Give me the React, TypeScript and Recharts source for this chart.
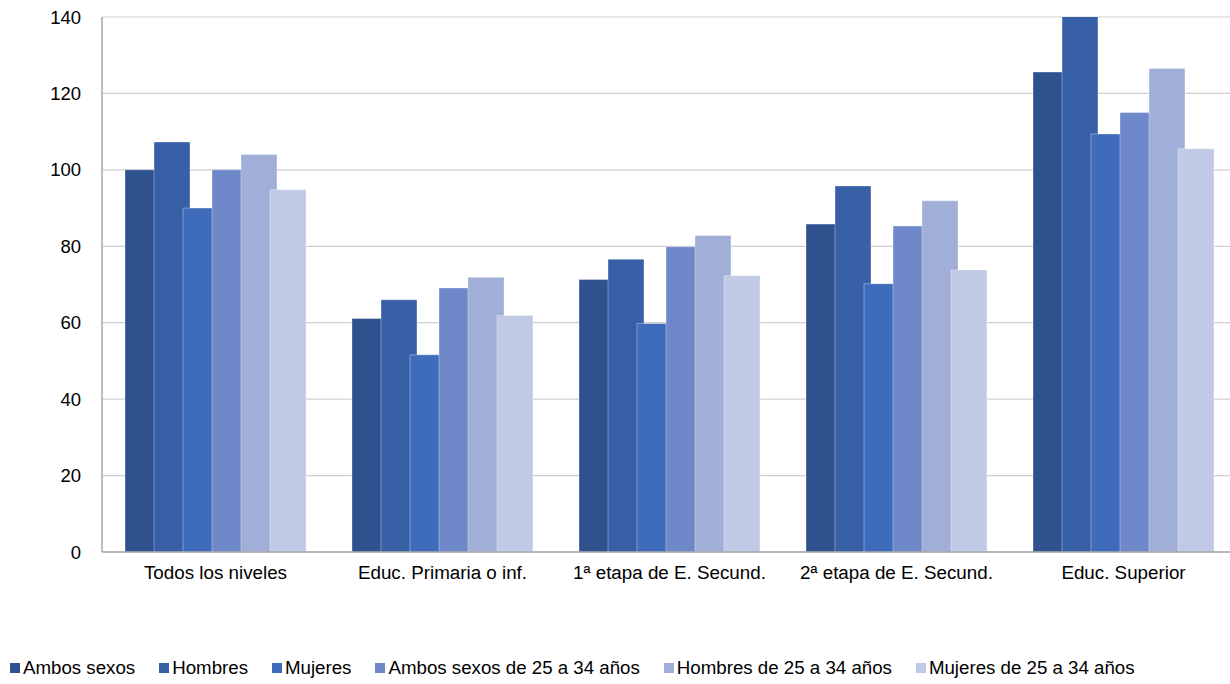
import React from "react";
import {
  BarChart,
  Bar,
  XAxis,
  YAxis,
  CartesianGrid,
  Legend,
} from "recharts";

const niveles = [
  "Todos los niveles",
  "Educ. Primaria o inf.",
  "1ª etapa de E. Secund.",
  "2ª etapa de E. Secund.",
  "Educ. Superior",
];

const ambosSexos = [100, 61.1, 71.3, 85.8, 125.6];
const hombres = [107.3, 66, 76.6, 95.8, 146];
const mujeres = [90, 51.6, 59.8, 70.2, 109.4];
const ambos2534 = [100, 69.1, 79.9, 85.3, 115];
const hombres2534 = [104, 71.9, 82.8, 91.9, 126.5];
const mujeres2534 = [94.8, 61.9, 72.3, 73.8, 105.5];

const yTicks = [0, 20, 40, 60, 80, 100, 120, 140];

const series = [
  { key: "ambos", name: "Ambos sexos", values: ambosSexos, color: "#2f528f" },
  { key: "hombres", name: "Hombres", values: hombres, color: "#3860a7" },
  { key: "mujeres", name: "Mujeres", values: mujeres, color: "#3e6cba" },
  { key: "ambos2534", name: "Ambos sexos de 25 a 34 años", values: ambos2534, color: "#6e88c9" },
  { key: "hombres2534", name: "Hombres de 25 a 34 años", values: hombres2534, color: "#a0aed8" },
  { key: "mujeres2534", name: "Mujeres de 25 a 34 años", values: mujeres2534, color: "#c0c9e5" },
];

const data = niveles.map((n, i) => {
  const row: Record<string, string | number> = { name: n };
  series.forEach((s) => {
    row[s.key] = s.values[i];
  });
  return row;
});

const FONT = "'Liberation Sans', Arial, sans-serif";

const renderLegend = () => (
  <div
    style={{
      display: "flex",
      alignItems: "center",
      height: 30,
      paddingLeft: 10,
      fontFamily: FONT,
      fontSize: 18.7,
      color: "#000",
      whiteSpace: "nowrap",
    }}
  >
    {series.map((s) => (
      <div key={s.key} style={{ display: "flex", alignItems: "center", marginRight: 24 }}>
        <span
          style={{
            display: "inline-block",
            width: 10,
            height: 10,
            background: s.color,
            marginRight: 3,
          }}
        />
        <span>{s.name}</span>
      </div>
    ))}
  </div>
);

export default function App() {
  return (
    <div
      style={{
        position: "absolute",
        left: 0,
        top: 0,
        width: 1230,
        height: 684,
        overflow: "hidden",
        background: "#fff",
      }}
    >
      <BarChart
        width={1237}
        height={684}
        data={data}
        margin={{ top: 17, right: 0, left: 0, bottom: 1 }}
        barSize={36}
        barGap={-7}
      >
        <CartesianGrid vertical={false} stroke="#d0d0d0" strokeWidth={1.2} />
        <XAxis
          dataKey="name"
          height={101}
          axisLine={{ stroke: "#a6a6a6", strokeWidth: 1.5 }}
          tickLine={false}
          tickMargin={8}
          tick={{ fill: "#000", fontSize: 18.8, fontFamily: FONT }}
        />
        <YAxis
          width={102}
          domain={[0, 140]}
          ticks={yTicks}
          allowDataOverflow
          axisLine={{ stroke: "#a6a6a6", strokeWidth: 1.5 }}
          tickLine={false}
          tickMargin={15}
          tick={{ fill: "#000", fontSize: 18.5, fontFamily: FONT }}
        />
        <Legend verticalAlign="bottom" align="left" content={renderLegend} />
        {series.map((s) => (
          <Bar
            key={s.key}
            dataKey={s.key}
            name={s.name}
            fill={s.color}
            stroke="rgba(255,255,255,0.35)"
            strokeWidth={1}
            isAnimationActive={false}
          />
        ))}
      </BarChart>
    </div>
  );
}
